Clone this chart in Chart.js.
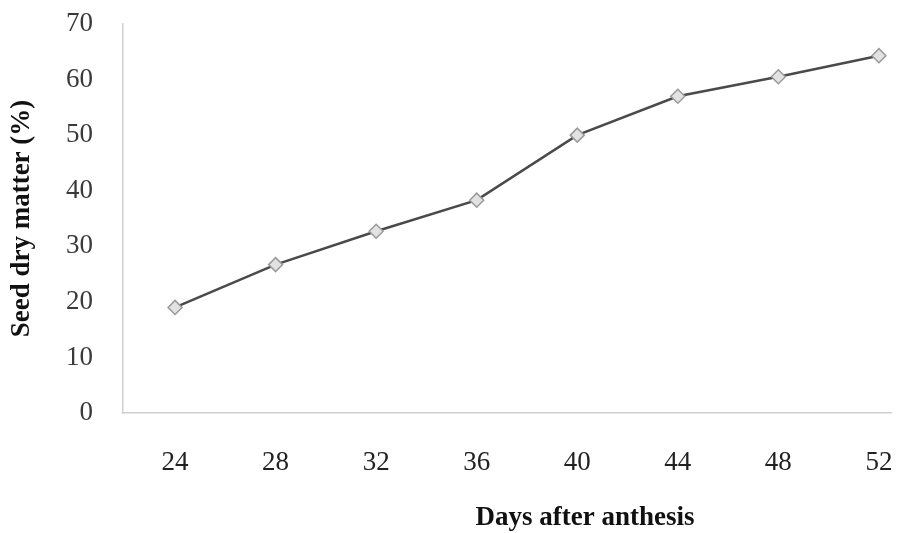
<!DOCTYPE html>
<html>
<head>
<meta charset="utf-8">
<script src="https://cdn.jsdelivr.net/npm/chart.js@4.4.1/dist/chart.umd.min.js"></script>
<style>
  html, body { margin: 0; padding: 0; background: #fff; }
  #wrap { width: 900px; height: 533px; }
</style>
</head>
<body>
<div id="wrap"><canvas id="chartSeed" width="900" height="533"></canvas></div>
<script>
// datos
const dias = [24, 28, 32, 36, 40, 44, 48, 52];
const materiaSeca = [19.0, 26.7, 32.7, 38.3, 50.0, 57.0, 60.5, 64.3];
const yTicks = [0, 10, 20, 30, 40, 50, 60, 70];

const xTitulo = 'Days after anthesis';
const yTitulo = 'Seed dry matter (%)';

const serif = '"Liberation Serif", "Times New Roman", serif';

// titulo del eje x dibujado a mano (en la figura no esta centrado)
const tituloX = {
    id: 'tituloX',
    afterDraw(chart) {
        const ctx = chart.ctx;
        ctx.save();
        ctx.font = 'bold 27px ' + serif;
        ctx.fillStyle = '#111';
        ctx.textAlign = 'center';
        ctx.textBaseline = 'middle';
        ctx.fillText(xTitulo, chart.width * 0.65, 518);
        ctx.restore();
    }
};

const crearGrafico = function() {
    const ctx = document.getElementById('chartSeed').getContext('2d');
    new Chart(ctx, {
        type: 'line',
        data: {
            datasets: [{
                label: yTitulo,
                data: dias.map((d, i) => ({ x: d, y: materiaSeca[i] })),
                borderColor: '#4a4a4a',
                borderWidth: 2.5,
                tension: 0,
                pointStyle: 'rectRot',
                pointRadius: 7,
                pointBackgroundColor: '#e2e2e2',
                pointBorderColor: '#9a9a9a',
                pointBorderWidth: 1.5
            }]
        },
        options: {
            responsive: false,
            animation: false,
            layout: { padding: { top: 24, right: 0, bottom: 0, left: 0 } },
            plugins: {
                legend: { display: false },
                tooltip: { enabled: false }
            },
            scales: {
                x: {
                    type: 'linear',
                    min: 21.93,
                    max: 52.5,
                    afterBuildTicks: s => { s.ticks = dias.map(v => ({ value: v })); },
                    afterFit: s => { s.height = 120; s.paddingLeft = 0; s.paddingRight = 0; },
                    grid: { display: false, drawTicks: false },
                    border: { display: true, color: '#d0d0d0', width: 1.5 },
                    ticks: {
                        padding: 34,
                        color: '#222',
                        font: { family: serif, size: 27 }
                    }
                },
                y: {
                    min: 0,
                    max: 70,
                    afterBuildTicks: s => { s.ticks = yTicks.map(v => ({ value: v })); },
                    afterFit: s => { s.width = 123; s.paddingTop = 0; s.paddingBottom = 0; },
                    grid: { display: false, drawTicks: false },
                    border: { display: true, color: '#d0d0d0', width: 1.5 },
                    ticks: {
                        padding: 30,
                        color: '#3a3a3a',
                        font: { family: serif, size: 27 }
                    },
                    title: {
                        display: true,
                        text: yTitulo,
                        color: '#111',
                        padding: { top: 6, bottom: 0 },
                        font: { family: serif, size: 27, weight: 'bold' }
                    }
                }
            }
        },
        plugins: [tituloX]
    });
};

document.addEventListener('DOMContentLoaded', crearGrafico);
</script>
</body>
</html>
